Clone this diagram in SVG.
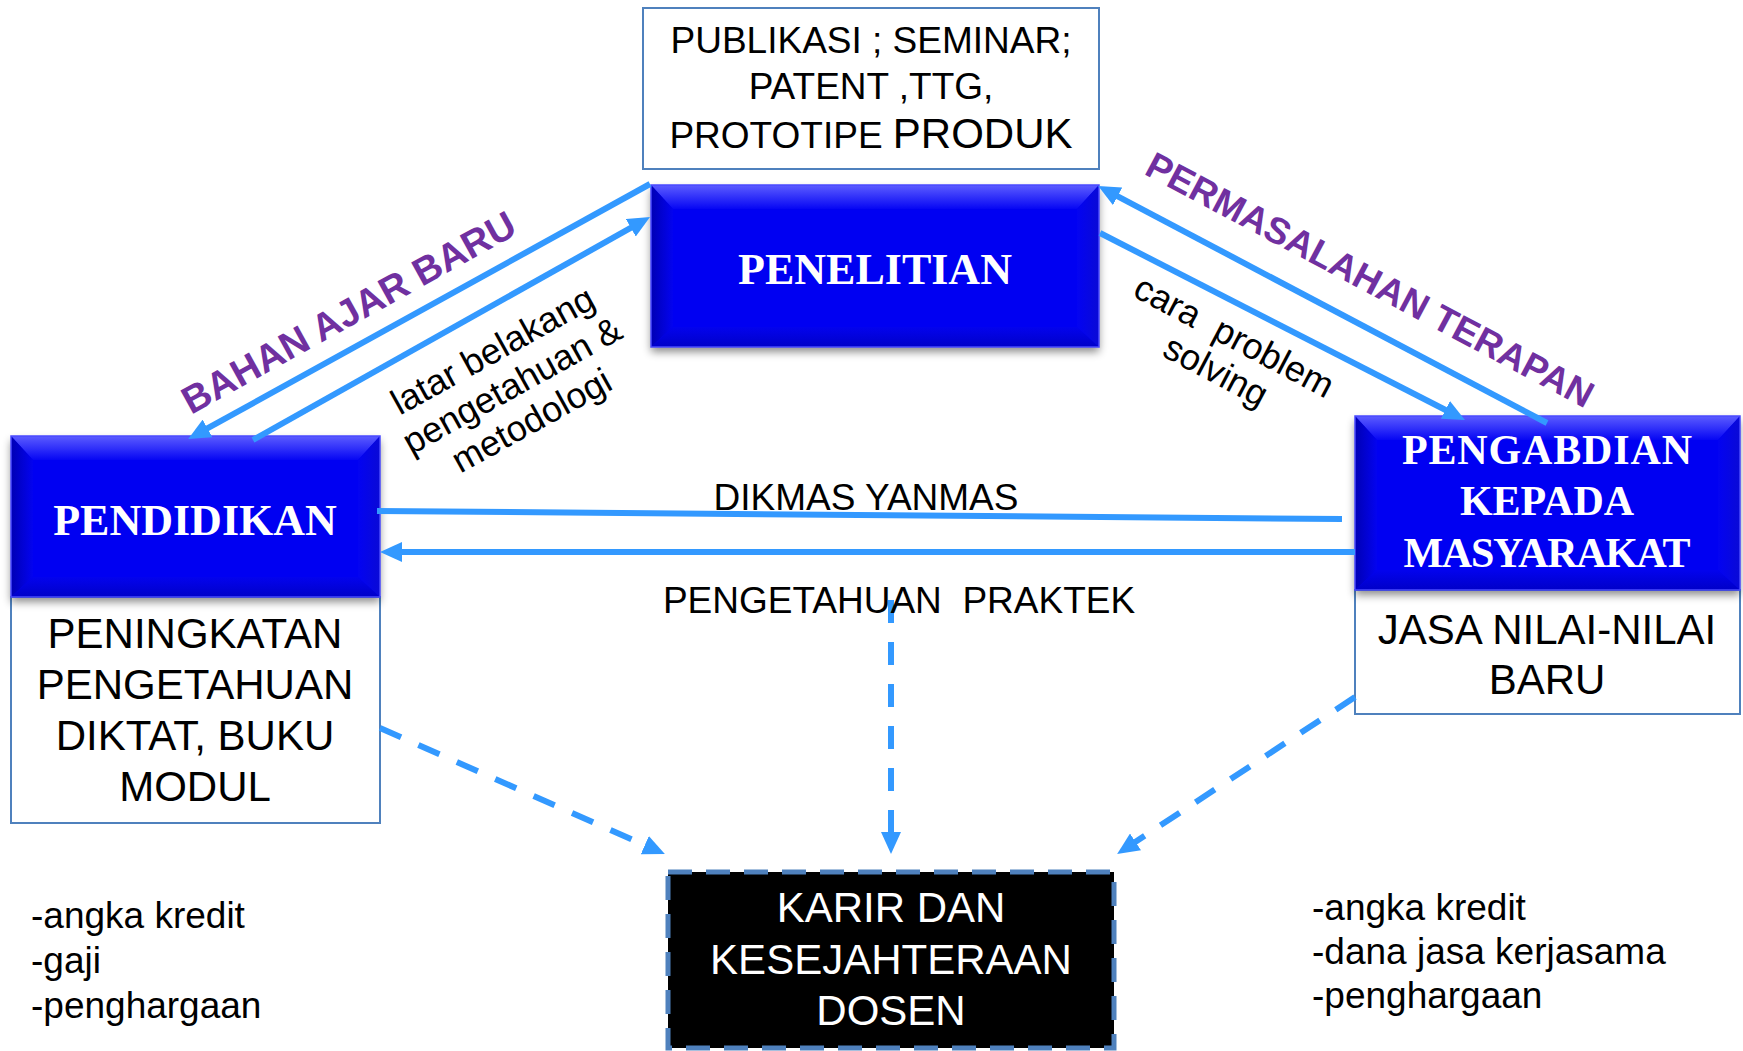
<svg xmlns="http://www.w3.org/2000/svg" width="1743" height="1051" viewBox="0 0 1743 1051">
<defs>
<style>
.sans{font-family:"Liberation Sans",Arial,sans-serif}
.serif{font-family:"Liberation Serif","Times New Roman",serif;font-weight:bold;fill:#ffffff;text-anchor:middle}
.wbox{fill:#ffffff;stroke:#4f81bd;stroke-width:2}
.conn{fill:none;stroke:#3399ff;stroke-width:6}
.dash{stroke-dasharray:23 19}
.purple{fill:#7030a0;font-weight:bold}
.mid{text-anchor:middle}
.base{fill:#0303f2}
.bt{fill:url(#gTop)}
.bl{fill:url(#gLeft)}
.br{fill:url(#gRight)}
.bb{fill:url(#gBot)}
</style>
<linearGradient id="gTop" x1="0" y1="0" x2="0" y2="1"><stop offset="0" stop-color="#5c5cff"/><stop offset="1" stop-color="#0606f4"/></linearGradient>
<linearGradient id="gLeft" x1="0" y1="0" x2="1" y2="0"><stop offset="0" stop-color="#0000b4"/><stop offset="1" stop-color="#0303f0"/></linearGradient>
<linearGradient id="gRight" x1="1" y1="0" x2="0" y2="0"><stop offset="0" stop-color="#0a0ad6"/><stop offset="1" stop-color="#0303f2"/></linearGradient>
<linearGradient id="gBot" x1="0" y1="1" x2="0" y2="0"><stop offset="0" stop-color="#0000c8"/><stop offset="1" stop-color="#0303ee"/></linearGradient>
<filter id="shadow" x="-5%" y="-5%" width="110%" height="130%"><feDropShadow dx="0" dy="5" stdDeviation="4" flood-color="#000" flood-opacity="0.45"/></filter>
<marker id="ah" markerUnits="userSpaceOnUse" markerWidth="22" markerHeight="20" refX="9" refY="10" orient="auto"><path d="M0,0 L22,10 L0,20 z" fill="#3399ff"/></marker>
</defs>
<rect width="1743" height="1051" fill="#ffffff"/>

<g id="publikasi">
<rect class="wbox" x="643" y="8" width="456" height="161"/>
<text class="sans mid" font-size="37" x="871" y="53">PUBLIKASI ; SEMINAR;</text>
<text class="sans mid" font-size="37" x="871" y="99">PATENT ,TTG,</text>
<text class="sans mid" font-size="37" x="871" y="148">PROTOTIPE <tspan font-size="42">PRODUK</tspan></text>
</g>

<g id="peningkatan">
<rect class="wbox" x="11" y="597" width="369" height="226"/>
<text class="sans mid" font-size="42" x="195" y="648">PENINGKATAN</text>
<text class="sans mid" font-size="42" x="195" y="699">PENGETAHUAN</text>
<text class="sans mid" font-size="42" x="195" y="750">DIKTAT, BUKU</text>
<text class="sans mid" font-size="42" x="195" y="801">MODUL</text>
</g>

<g id="jasa">
<rect class="wbox" x="1355" y="590" width="385" height="124"/>
<text class="sans mid" font-size="42" x="1547" y="644">JASA NILAI-NILAI</text>
<text class="sans mid" font-size="42" x="1547" y="694">BARU</text>
</g>

<g id="penelitian">
<g transform="translate(651,185)">
<rect class="base" width="448" height="162" filter="url(#shadow)"/>
<polygon class="bt" points="0,0 448,0 426,24 22,24"/>
<polygon class="bl" points="0,0 22,24 22,142 0,162"/>
<polygon class="br" points="448,0 448,162 426,142 426,24"/>
<polygon class="bb" points="0,162 22,142 426,142 448,162"/>
<rect width="448" height="162" fill="none" stroke="#4a4aff" stroke-width="1.5"/>
</g>
<text class="serif" font-size="44" x="875" y="284">PENELITIAN</text>
</g>

<g id="pendidikan">
<g transform="translate(11,436)">
<rect class="base" width="369" height="161" filter="url(#shadow)"/>
<polygon class="bt" points="0,0 369,0 347,24 22,24"/>
<polygon class="bl" points="0,0 22,24 22,141 0,161"/>
<polygon class="br" points="369,0 369,161 347,141 347,24"/>
<polygon class="bb" points="0,161 22,141 347,141 369,161"/>
<rect width="369" height="161" fill="none" stroke="#4a4aff" stroke-width="1.5"/>
</g>
<text class="serif" font-size="44" x="195" y="535">PENDIDIKAN</text>
</g>

<g id="pengabdian">
<g transform="translate(1355,416)">
<rect class="base" width="385" height="174" filter="url(#shadow)"/>
<polygon class="bt" points="0,0 385,0 363,24 22,24"/>
<polygon class="bl" points="0,0 22,24 22,154 0,174"/>
<polygon class="br" points="385,0 385,174 363,154 363,24"/>
<polygon class="bb" points="0,174 22,154 363,154 385,174"/>
<rect width="385" height="174" fill="none" stroke="#4a4aff" stroke-width="1.5"/>
</g>
<text class="serif" font-size="42" x="1547" y="464" textLength="290">PENGABDIAN</text>
<text class="serif" font-size="42" x="1547" y="515">KEPADA</text>
<text class="serif" font-size="42" x="1547" y="567" textLength="287">MASYARAKAT</text>
</g>

<g id="karir">
<rect x="668" y="872" width="446" height="176" fill="#000000" stroke="#4f81bd" stroke-width="5" stroke-dasharray="24 14"/>
<text class="sans mid" font-size="42" fill="#ffffff" x="891" y="922">KARIR DAN</text>
<text class="sans mid" font-size="42" fill="#ffffff" x="891" y="974">KESEJAHTERAAN</text>
<text class="sans mid" font-size="42" fill="#ffffff" x="891" y="1025">DOSEN</text>
</g>

<g id="connectors">
<path class="conn" d="M650,184 L199.6,432.7" marker-end="url(#ah)"/>
<path class="conn" d="M253,440 L638.7,223.4" marker-end="url(#ah)"/>
<path class="conn" d="M1547,423 L1109.7,192.1" marker-end="url(#ah)"/>
<path class="conn" d="M1100,233 L1453.4,414" marker-end="url(#ah)"/>
<path class="conn" d="M377,511 L1342,519"/>
<path class="conn" d="M1355,552 L393,552" marker-end="url(#ah)"/>
<path class="conn dash" d="M380,728 L653,848.8" marker-end="url(#ah)"/>
<path class="conn dash" d="M891,600 L891,841" marker-end="url(#ah)"/>
<path class="conn dash" d="M1355,697 L1128,846.8" marker-end="url(#ah)"/>
</g>

<g id="labels">
<text class="sans purple mid" font-size="38.5" transform="translate(355,324) rotate(-29)">BAHAN AJAR BARU</text>
<g class="sans" font-size="36" text-anchor="middle" transform="translate(518,396) rotate(-29)">
<text x="0" y="-40">latar belakang</text>
<text x="0" y="0">pengetahuan &amp;</text>
<text x="0" y="40">metodologi</text>
</g>
<text class="sans purple mid" font-size="37" transform="translate(1364,291) rotate(28)">PERMASALAHAN TERAPAN</text>
<g class="sans" font-size="36" text-anchor="middle" transform="translate(1220,363) rotate(28)">
<text x="0" y="-18" xml:space="preserve">cara  problem</text>
<text x="0" y="21">solving</text>
</g>
<text class="sans mid" font-size="37" x="866" y="510">DIKMAS YANMAS</text>
<text class="sans mid" font-size="37" x="899" y="613" xml:space="preserve">PENGETAHUAN  PRAKTEK</text>
<text class="sans" font-size="37" x="31" y="928">-angka kredit</text>
<text class="sans" font-size="37" x="31" y="973">-gaji</text>
<text class="sans" font-size="37" x="31" y="1018">-penghargaan</text>
<text class="sans" font-size="37" x="1312" y="920">-angka kredit</text>
<text class="sans" font-size="37" x="1312" y="964">-dana jasa kerjasama</text>
<text class="sans" font-size="37" x="1312" y="1008">-penghargaan</text>
</g>
</svg>
